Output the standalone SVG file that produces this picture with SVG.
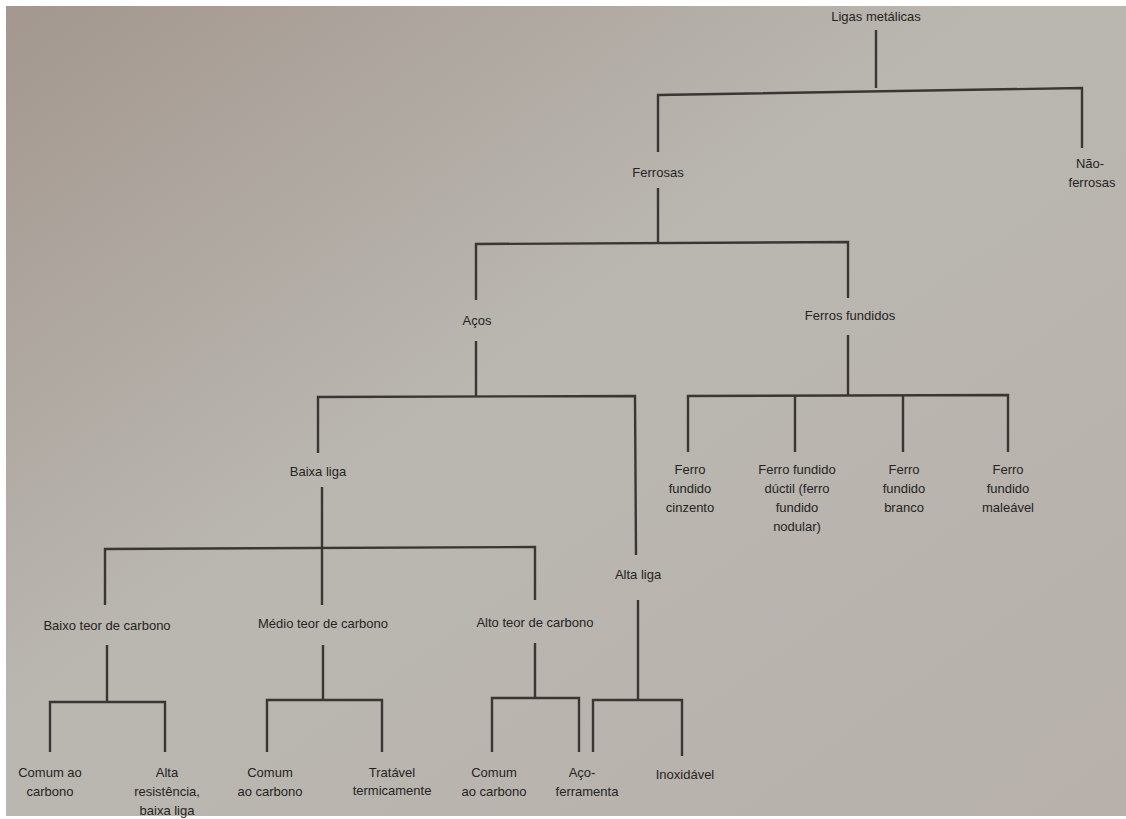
<svg xmlns="http://www.w3.org/2000/svg" width="1126" height="819" viewBox="0 0 1126 819">
<style>
.t{font-family:"Liberation Sans",Arial,sans-serif;font-size:13px;fill:#262422;text-anchor:middle}
.c line,.c polyline{stroke:#3a3634;stroke-width:2.4;fill:none}
</style>
<defs>
<linearGradient id="bg" x1="0" y1="0" x2="1" y2="1">
<stop offset="0" stop-color="#a3978f"/>
<stop offset="0.45" stop-color="#bab7b1"/>
<stop offset="1" stop-color="#b7b0ab"/>
</linearGradient>
</defs>
<rect width="1126" height="819" fill="#ffffff"/>
<rect x="6" y="6" width="1120" height="810" fill="url(#bg)"/>
<g class="c" id="connectors">
<line x1="876" y1="30" x2="876" y2="88"/>
<polyline points="658,152 658,95 1082,88 1082,148"/>
<line x1="658" y1="188" x2="658" y2="244"/>
<polyline points="476,300 476,244 848,242 848,298"/>
<line x1="476" y1="341" x2="476" y2="397"/>
<polyline points="318,453 318,397 635,396 636,555"/>
<line x1="848" y1="335" x2="848" y2="396"/>
<polyline points="688,452 688,396 1008,395 1008,452"/>
<line x1="795" y1="396" x2="795" y2="452"/>
<line x1="903" y1="396" x2="903" y2="452"/>
<line x1="322" y1="487" x2="322" y2="605"/>
<polyline points="105,605 105,549 535,547 535,600"/>
<line x1="107" y1="645" x2="107" y2="702"/>
<polyline points="50,752 50,702 165,702 165,752"/>
<line x1="323" y1="645" x2="323" y2="700"/>
<polyline points="267,752 267,700 382,700 382,752"/>
<line x1="535" y1="643" x2="535" y2="698"/>
<polyline points="492,752 492,698 579,698 579,752"/>
<line x1="638" y1="600" x2="638" y2="700"/>
<polyline points="593,752 593,700 682,700 682,756"/>
</g>
<g id="n-ligas"><text class="t" x="876" y="21">Ligas metálicas</text></g>
<g id="n-ferrosas"><text class="t" x="658" y="177">Ferrosas</text></g>
<g id="n-naoferrosas"><text class="t" x="1090" y="168">Não-</text><text class="t" x="1092" y="187">ferrosas</text></g>
<g id="n-acos"><text class="t" x="477" y="325">Aços</text></g>
<g id="n-ferrosfundidos"><text class="t" x="850" y="320">Ferros fundidos</text></g>
<g id="n-baixaliga"><text class="t" x="318" y="476">Baixa liga</text></g>
<g id="n-altaliga"><text class="t" x="638" y="579">Alta liga</text></g>
<g id="n-cinzento"><text class="t" x="690" y="474">Ferro</text><text class="t" x="690" y="493">fundido</text><text class="t" x="690" y="512">cinzento</text></g>
<g id="n-ductil"><text class="t" x="797" y="474">Ferro fundido</text><text class="t" x="797" y="493">dúctil (ferro</text><text class="t" x="797" y="512">fundido</text><text class="t" x="797" y="531">nodular)</text></g>
<g id="n-branco"><text class="t" x="904" y="474">Ferro</text><text class="t" x="904" y="493">fundido</text><text class="t" x="904" y="512">branco</text></g>
<g id="n-maleavel"><text class="t" x="1008" y="474">Ferro</text><text class="t" x="1008" y="493">fundido</text><text class="t" x="1008" y="512">maleável</text></g>
<g id="n-baixoteor"><text class="t" x="107" y="630">Baixo teor de carbono</text></g>
<g id="n-medioteor"><text class="t" x="323" y="628">Médio teor de carbono</text></g>
<g id="n-altoteor"><text class="t" x="535" y="627">Alto teor de carbono</text></g>
<g id="n-comum1"><text class="t" x="50" y="777">Comum ao</text><text class="t" x="50" y="796">carbono</text></g>
<g id="n-altares"><text class="t" x="167" y="777">Alta</text><text class="t" x="167" y="796">resistência,</text><text class="t" x="167" y="815">baixa liga</text></g>
<g id="n-comum2"><text class="t" x="270" y="777">Comum</text><text class="t" x="270" y="796">ao carbono</text></g>
<g id="n-tratavel"><text class="t" x="392" y="777">Tratável</text><text class="t" x="392" y="795">termicamente</text></g>
<g id="n-comum3"><text class="t" x="494" y="777">Comum</text><text class="t" x="494" y="796">ao carbono</text></g>
<g id="n-acoferr"><text class="t" x="582" y="777">Aço-</text><text class="t" x="587" y="796">ferramenta</text></g>
<g id="n-inox"><text class="t" x="685" y="779">Inoxidável</text></g>
</svg>
